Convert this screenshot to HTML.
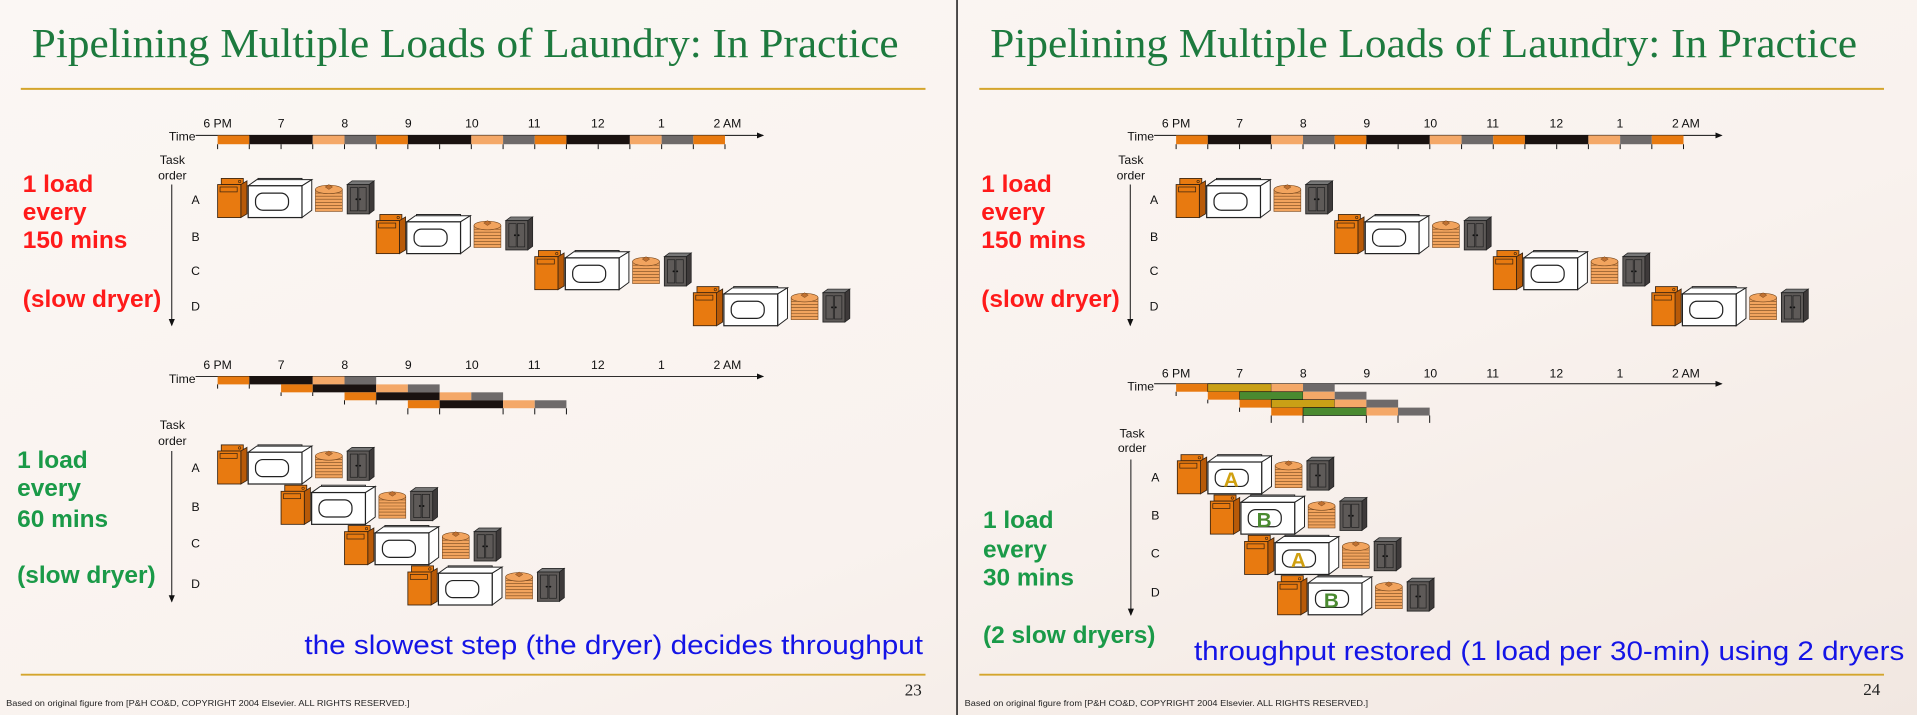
<!DOCTYPE html>
<html><head><meta charset="utf-8"><style>
html,body{margin:0;padding:0;width:1917px;height:715px;overflow:hidden;background:#faf4f0}
svg{display:block}
</style></head><body>
<svg width="1917" height="715" viewBox="0 0 1568 585" preserveAspectRatio="none" xmlns="http://www.w3.org/2000/svg" font-family="Liberation Sans, Arial, sans-serif">
<defs>
<linearGradient id="bg" x1="0" y1="0" x2="1" y2="1"><stop offset="0" stop-color="#fbf7f4"/><stop offset="0.6" stop-color="#f9f2ee"/><stop offset="1" stop-color="#f1e7e1"/></linearGradient>
<marker id="ah" markerWidth="6" markerHeight="6" refX="5" refY="3" orient="auto" markerUnits="userSpaceOnUse"><path d="M0,0.5 L6,3 L0,5.5z" fill="#111"/></marker>
<g id="washer">
<rect x="3" y="0" width="18" height="5" fill="#e87a10" stroke="#3a2410" stroke-width="0.7"/>
<circle cx="18" cy="2.5" r="1" fill="none" stroke="#3a2410" stroke-width="0.5"/>
<polygon points="19,5 24,2 24,29 19,32" fill="#b85a08" stroke="#3a2410" stroke-width="0.7"/>
<rect x="0" y="5" width="19" height="27" fill="#e87a10" stroke="#3a2410" stroke-width="0.7"/>
<rect x="2" y="7" width="14" height="4" fill="none" stroke="#3a2410" stroke-width="0.6"/>
</g>
<g id="dryer">
<rect x="8" y="0" width="36" height="5" fill="#fff" stroke="#222" stroke-width="0.8"/>
<ellipse cx="39" cy="2.5" rx="2" ry="1" fill="none" stroke="#222" stroke-width="0.6"/>
<polygon points="0,6 7,1 52,1 44,6" fill="#fff" stroke="#222" stroke-width="0.8"/>
<polygon points="44,6 52,1 52,26 44,32" fill="#fff" stroke="#222" stroke-width="0.8"/>
<rect x="0" y="6" width="44" height="26" fill="#fff" stroke="#222" stroke-width="1"/>
<rect x="6" y="12" width="27" height="14" rx="6" fill="none" stroke="#222" stroke-width="1"/>
</g>
<g id="fold">
<rect x="1" y="5" width="22" height="18" fill="#f2a45e" stroke="#7a4a20" stroke-width="0.5"/>
<path d="M1,8 H23 M1,10.5 H23 M1,13 H23 M1,15.5 H23 M1,18 H23 M1,20.5 H23" stroke="#7a4a20" stroke-width="0.5"/>
<ellipse cx="12" cy="5" rx="11" ry="3.5" fill="#f2a45e" stroke="#7a4a20" stroke-width="0.5"/>
<path d="M9,3 L12,1 L15,3 L12,5z" fill="#c07030" stroke="#7a4a20" stroke-width="0.4"/>
</g>
<g id="closet">
<polygon points="0,3 4,0 22,0 18,3" fill="#777" stroke="#222" stroke-width="0.6"/>
<polygon points="18,3 22,0 22,24 18,27" fill="#3e3a3a" stroke="#222" stroke-width="0.6"/>
<rect x="0" y="3" width="18" height="24" fill="#5e5a58" stroke="#222" stroke-width="0.7"/>
<rect x="2.5" y="5.5" width="6" height="19" fill="none" stroke="#222" stroke-width="0.6"/>
<rect x="9.5" y="5.5" width="6" height="19" fill="none" stroke="#222" stroke-width="0.6"/>
<circle cx="7.5" cy="15" r="0.8" fill="#111"/><circle cx="10.5" cy="15" r="0.8" fill="#111"/>
</g>
<g id="load">
<use href="#washer" x="0" y="0"/>
<use href="#dryer" x="25" y="0"/>
<use href="#fold" x="79" y="4"/>
<use href="#closet" x="106" y="2"/>
</g>
<g id="slide">
<text x="26" y="46.5" font-family="Liberation Serif, serif" font-size="34" fill="#1d7a3e" textLength="709" lengthAdjust="spacingAndGlyphs">Pipelining Multiple Loads of Laundry: In Practice</text>
<line x1="17" y1="72.7" x2="757" y2="72.7" stroke="#d4a52c" stroke-width="1.6"/>
<line x1="17" y1="552" x2="757" y2="552" stroke="#d4a52c" stroke-width="1.6"/>
<text x="5" y="577.5" font-size="7" fill="#222" textLength="330" lengthAdjust="spacingAndGlyphs">Based on original figure from [P&amp;H CO&amp;D, COPYRIGHT 2004 Elsevier. ALL RIGHTS RESERVED.]</text>
<!-- top timeline -->
<g font-size="10" fill="#111">
<text x="178" y="104.5" text-anchor="middle">6 PM</text><text x="230" y="104.5" text-anchor="middle">7</text><text x="282" y="104.5" text-anchor="middle">8</text><text x="334" y="104.5" text-anchor="middle">9</text><text x="386" y="104.5" text-anchor="middle">10</text><text x="437" y="104.5" text-anchor="middle">11</text><text x="489" y="104.5" text-anchor="middle">12</text><text x="541" y="104.5" text-anchor="middle">1</text><text x="595" y="104.5" text-anchor="middle">2 AM</text>
<text x="160" y="115" text-anchor="end">Time</text>
<text x="141" y="134" text-anchor="middle">Task</text><text x="141" y="147" text-anchor="middle">order</text>
<text x="160" y="167" text-anchor="middle">A</text><text x="160" y="197" text-anchor="middle">B</text><text x="160" y="225" text-anchor="middle">C</text><text x="160" y="254" text-anchor="middle">D</text>
</g>
<line x1="160" y1="110.8" x2="624" y2="110.8" stroke="#111" stroke-width="0.8" marker-end="url(#ah)"/>
<g>
<rect x="178" y="110.8" width="25.9" height="7.2" fill="#e87a10"/>
<rect x="203.9" y="110.8" width="51.9" height="7.2" fill="#1a1210"/>
<rect x="255.8" y="110.8" width="26" height="7.2" fill="#f4a868"/>
<rect x="281.8" y="110.8" width="25.9" height="7.2" fill="#6e6a6a"/>
<rect x="307.7" y="110.8" width="25.9" height="7.2" fill="#e87a10"/>
<rect x="333.6" y="110.8" width="51.9" height="7.2" fill="#1a1210"/>
<rect x="385.5" y="110.8" width="26" height="7.2" fill="#f4a868"/>
<rect x="411.5" y="110.8" width="25.9" height="7.2" fill="#6e6a6a"/>
<rect x="437.4" y="110.8" width="25.9" height="7.2" fill="#e87a10"/>
<rect x="463.3" y="110.8" width="51.9" height="7.2" fill="#1a1210"/>
<rect x="515.2" y="110.8" width="26" height="7.2" fill="#f4a868"/>
<rect x="541.2" y="110.8" width="25.9" height="7.2" fill="#6e6a6a"/>
<rect x="567.1" y="110.8" width="25.9" height="7.2" fill="#e87a10"/>
<path d="M178,118V122 M203.9,118V122 M229.9,118V122 M255.8,118V122 M281.8,118V122 M307.7,118V122 M333.6,118V122 M359.6,118V122 M385.5,118V122 M411.5,118V122 M437.4,118V122 M463.3,118V122 M489.3,118V122 M515.2,118V122 M541.2,118V122 M567.1,118V122 M593,118V122" stroke="#111" stroke-width="0.8"/>
</g>
<line x1="140.5" y1="151" x2="140.5" y2="266" stroke="#111" stroke-width="0.8" marker-end="url(#ah)"/>
<use href="#load" x="178" y="146"/>
<use href="#load" x="307.7" y="175.5"/>
<use href="#load" x="437.4" y="205"/>
<use href="#load" x="567.1" y="234.5"/>
<g font-weight="bold" font-size="20" fill="#ff1a1a">
<text x="18.6" y="157">1 load</text><text x="18.6" y="180">every</text><text x="18.6" y="203">150 mins</text><text x="18.6" y="251">(slow dryer)</text>
</g>
</g>
</defs>
<rect width="1568" height="585" fill="url(#bg)"/>
<use href="#slide" x="0" y="0"/>
<use href="#slide" x="784" y="0"/>
<line x1="782.8" y1="0" x2="782.8" y2="585" stroke="#111" stroke-width="1.2"/>
<text x="740" y="569" font-family="Liberation Serif, serif" font-size="14" fill="#222">23</text>
<text x="1524" y="568.5" font-family="Liberation Serif, serif" font-size="14" fill="#222">24</text>

<!-- LEFT bottom -->
<g font-size="10" fill="#111">
<text x="178" y="302" text-anchor="middle">6 PM</text><text x="230" y="302" text-anchor="middle">7</text><text x="282" y="302" text-anchor="middle">8</text><text x="334" y="302" text-anchor="middle">9</text><text x="386" y="302" text-anchor="middle">10</text><text x="437" y="302" text-anchor="middle">11</text><text x="489" y="302" text-anchor="middle">12</text><text x="541" y="302" text-anchor="middle">1</text><text x="595" y="302" text-anchor="middle">2 AM</text>
<text x="160" y="313.5" text-anchor="end">Time</text>
<text x="141" y="351" text-anchor="middle">Task</text><text x="141" y="364" text-anchor="middle">order</text>
<text x="160" y="386" text-anchor="middle">A</text><text x="160" y="418" text-anchor="middle">B</text><text x="160" y="448" text-anchor="middle">C</text><text x="160" y="481" text-anchor="middle">D</text>
</g>
<line x1="160" y1="308" x2="624" y2="308" stroke="#111" stroke-width="0.8" marker-end="url(#ah)"/>
<g>
<rect x="178" y="308" width="25.9" height="6.5" fill="#e87a10"/><rect x="203.9" y="308" width="51.9" height="6.5" fill="#1a1210"/><rect x="255.8" y="308" width="26" height="6.5" fill="#f4a868"/><rect x="281.8" y="308" width="25.9" height="6.5" fill="#6e6a6a"/>
<rect x="229.9" y="314.5" width="25.9" height="6.5" fill="#e87a10"/><rect x="255.8" y="314.5" width="51.9" height="6.5" fill="#1a1210"/><rect x="307.7" y="314.5" width="25.9" height="6.5" fill="#f4a868"/><rect x="333.6" y="314.5" width="26" height="6.5" fill="#6e6a6a"/>
<rect x="281.8" y="321" width="25.9" height="6.5" fill="#e87a10"/><rect x="307.7" y="321" width="51.9" height="6.5" fill="#1a1210"/><rect x="359.6" y="321" width="25.9" height="6.5" fill="#f4a868"/><rect x="385.5" y="321" width="26" height="6.5" fill="#6e6a6a"/>
<rect x="333.6" y="327.5" width="26" height="6.5" fill="#e87a10"/><rect x="359.6" y="327.5" width="51.9" height="6.5" fill="#1a1210"/><rect x="411.5" y="327.5" width="25.9" height="6.5" fill="#f4a868"/><rect x="437.4" y="327.5" width="25.9" height="6.5" fill="#6e6a6a"/>
<path d="M178,314.5V318 M203.9,314.5V318 M229.9,321V324 M255.8,321V324 M281.8,327.5V331 M307.7,327.5V331 M333.6,334V339 M359.6,334V339 M411.5,334V339 M437.4,334V339 M463.3,334V339" stroke="#111" stroke-width="0.8"/>
</g>
<line x1="140.5" y1="369" x2="140.5" y2="492" stroke="#111" stroke-width="0.8" marker-end="url(#ah)"/>
<use href="#load" x="178" y="364"/>
<use href="#load" x="229.9" y="397"/>
<use href="#load" x="281.8" y="430"/>
<use href="#load" x="333.6" y="463"/>
<g font-weight="bold" font-size="20" fill="#1a9a48">
<text x="14" y="383">1 load</text><text x="14" y="406">every</text><text x="14" y="431">60 mins</text><text x="14" y="477">(slow dryer)</text>
</g>
<text x="249" y="535" font-size="22" fill="#1414e6" textLength="506" lengthAdjust="spacingAndGlyphs">the slowest step (the dryer) decides throughput</text>

<!-- RIGHT bottom -->
<g font-size="10" fill="#111">
<text x="962" y="309" text-anchor="middle">6 PM</text><text x="1014" y="309" text-anchor="middle">7</text><text x="1066" y="309" text-anchor="middle">8</text><text x="1118" y="309" text-anchor="middle">9</text><text x="1170" y="309" text-anchor="middle">10</text><text x="1221" y="309" text-anchor="middle">11</text><text x="1273" y="309" text-anchor="middle">12</text><text x="1325" y="309" text-anchor="middle">1</text><text x="1379" y="309" text-anchor="middle">2 AM</text>
<text x="944" y="319.5" text-anchor="end">Time</text>
<text x="926" y="358" text-anchor="middle">Task</text><text x="926" y="370" text-anchor="middle">order</text>
<text x="945" y="394" text-anchor="middle">A</text><text x="945" y="425" text-anchor="middle">B</text><text x="945" y="456" text-anchor="middle">C</text><text x="945" y="488" text-anchor="middle">D</text>
</g>
<line x1="944" y1="314" x2="1408" y2="314" stroke="#111" stroke-width="0.8" marker-end="url(#ah)"/>
<g>
<rect x="962" y="314" width="25.9" height="6.5" fill="#e87a10"/><rect x="987.9" y="314" width="51.9" height="6.5" fill="#c9a016" stroke="#111" stroke-width="0.5"/><rect x="1039.8" y="314" width="26" height="6.5" fill="#f4a868"/><rect x="1065.8" y="314" width="25.9" height="6.5" fill="#6e6a6a"/>
<rect x="987.9" y="320.5" width="25.9" height="6.5" fill="#e87a10"/><rect x="1013.9" y="320.5" width="51.9" height="6.5" fill="#4a8a30" stroke="#111" stroke-width="0.5"/><rect x="1065.8" y="320.5" width="25.9" height="6.5" fill="#f4a868"/><rect x="1091.7" y="320.5" width="26" height="6.5" fill="#6e6a6a"/>
<rect x="1013.9" y="327" width="25.9" height="6.5" fill="#e87a10"/><rect x="1039.8" y="327" width="51.9" height="6.5" fill="#c9a016" stroke="#111" stroke-width="0.5"/><rect x="1091.7" y="327" width="25.9" height="6.5" fill="#f4a868"/><rect x="1117.6" y="327" width="26" height="6.5" fill="#6e6a6a"/>
<rect x="1039.8" y="333.5" width="26" height="6.5" fill="#e87a10"/><rect x="1065.8" y="333.5" width="51.9" height="6.5" fill="#4a8a30" stroke="#111" stroke-width="0.5"/><rect x="1117.6" y="333.5" width="25.9" height="6.5" fill="#f4a868"/><rect x="1143.5" y="333.5" width="25.9" height="6.5" fill="#6e6a6a"/>
<path d="M962,320.5V324 M987.9,327V330 M1013.9,333.5V337 M1039.8,340V346 M1065.8,340V346 M1117.6,340V346 M1143.5,340V346 M1169.4,340V346" stroke="#111" stroke-width="0.8"/>
</g>
<line x1="925" y1="376" x2="925" y2="503" stroke="#111" stroke-width="0.8" marker-end="url(#ah)"/>
<use href="#load" x="963" y="372"/>
<use href="#load" x="990" y="405"/>
<use href="#load" x="1018" y="438"/>
<use href="#load" x="1045" y="471"/>
<g font-weight="bold" font-size="17" text-anchor="middle">
<text x="1007" y="398" fill="#d0a010">A</text>
<text x="1034" y="431" fill="#4a8a30">B</text>
<text x="1062" y="464" fill="#d0a010">A</text>
<text x="1089" y="497" fill="#4a8a30">B</text>
</g>
<g font-weight="bold" font-size="20" fill="#1a9a48">
<text x="804" y="432">1 load</text><text x="804" y="456">every</text><text x="804" y="479">30 mins</text><text x="804" y="526">(2 slow dryers)</text>
</g>
<text x="976.6" y="540" font-size="22" fill="#1414e6" textLength="581" lengthAdjust="spacingAndGlyphs">throughput restored (1 load per 30-min) using 2 dryers</text>
</svg>
</body></html>
